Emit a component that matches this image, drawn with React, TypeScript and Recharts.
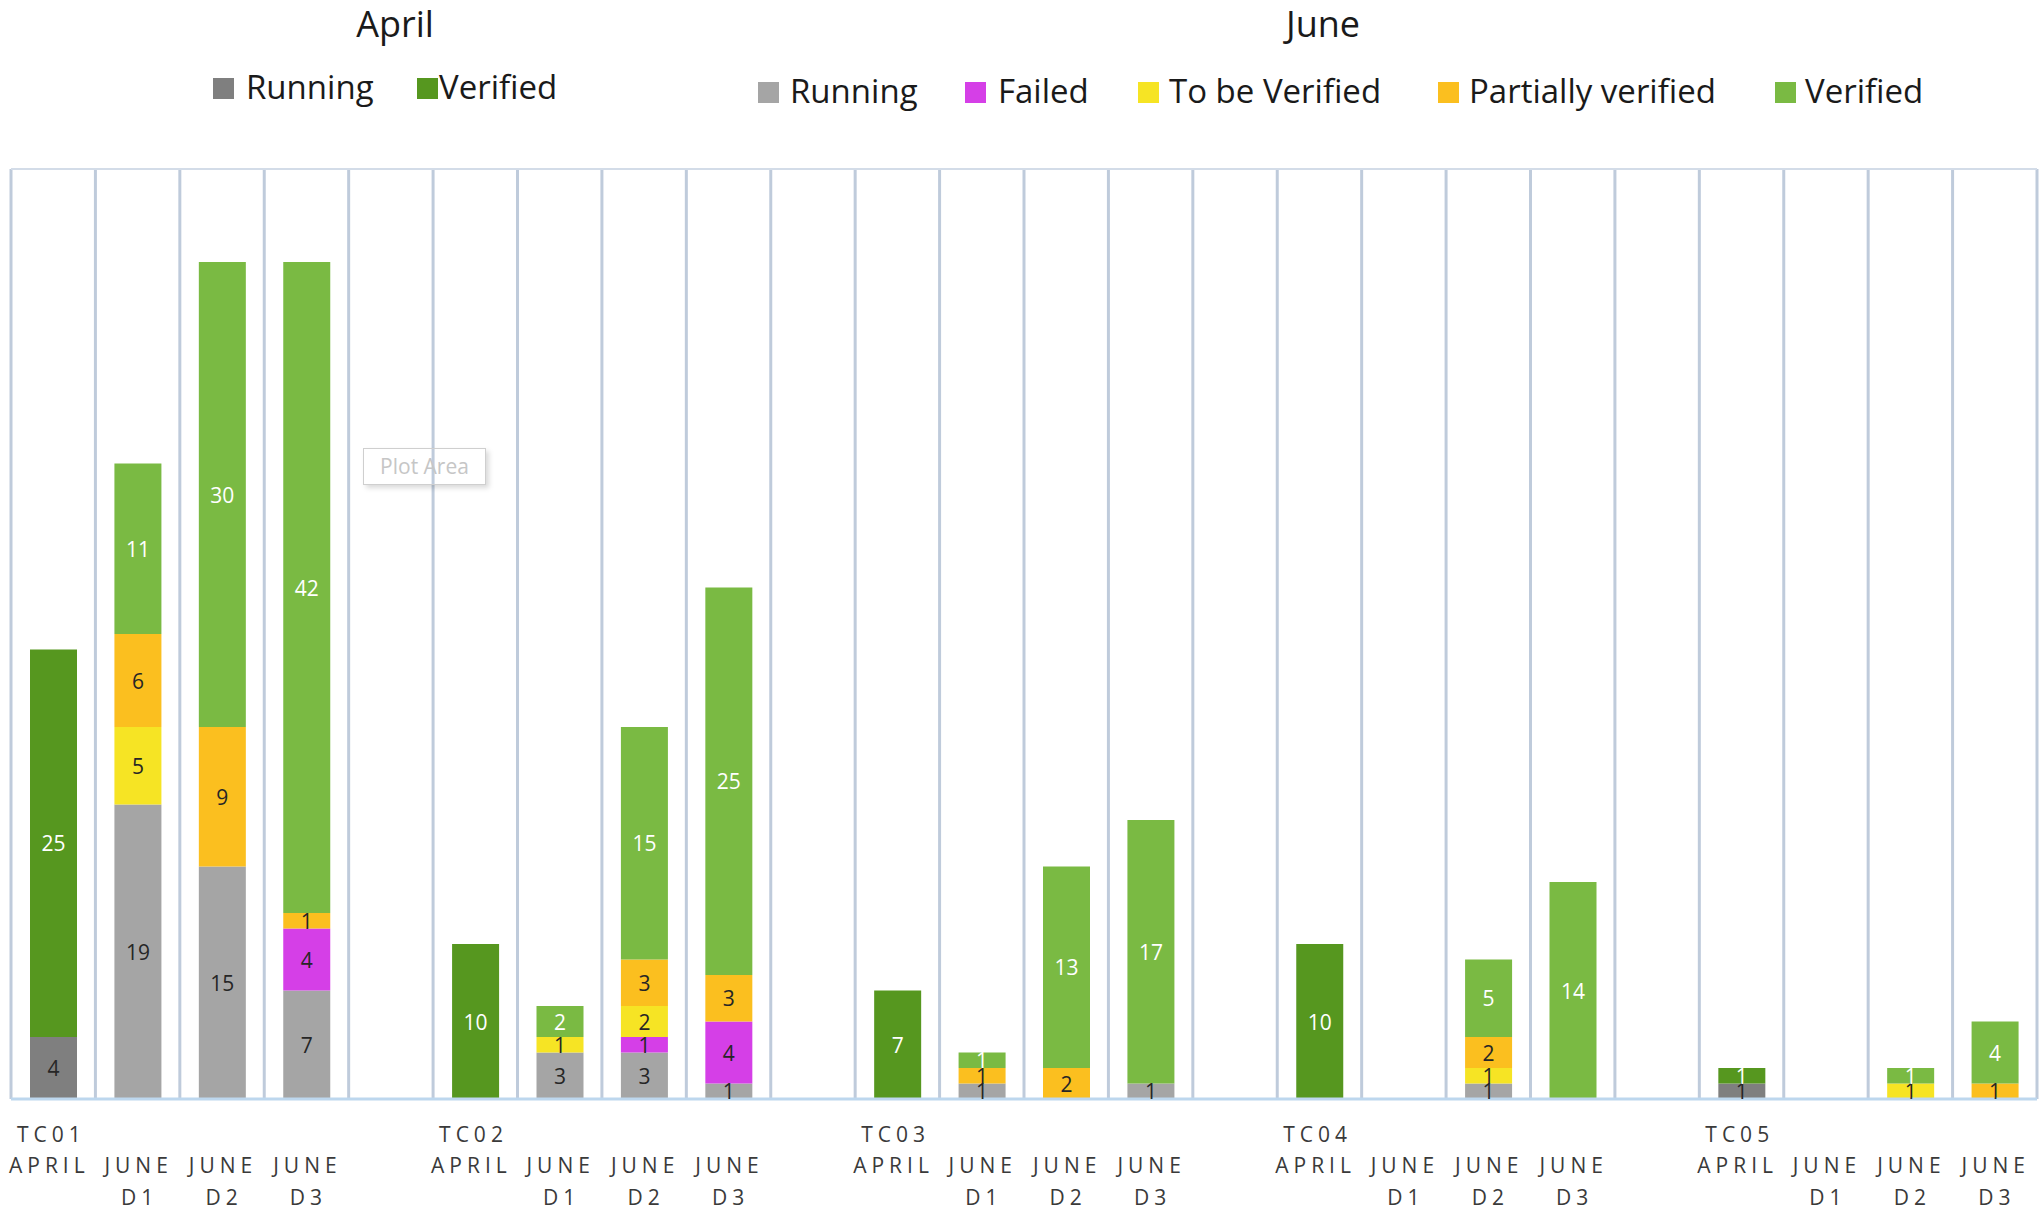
import React from "react";
import {
  BarChart,
  Bar,
  XAxis,
  YAxis,
  CartesianGrid,
  ReferenceLine,
  LabelList,
} from "recharts";

// ---- data (24 category slots: 5 test cases x 4 columns, with empty spacers) ----
const tcLabels = [
  "TC01", "", "", "", "",
  "TC02", "", "", "", "",
  "TC03", "", "", "", "",
  "TC04", "", "", "", "",
  "TC05", "", "", "",
];
const periodLabels = [
  "APRIL", "JUNE", "JUNE", "JUNE", "",
  "APRIL", "JUNE", "JUNE", "JUNE", "",
  "APRIL", "JUNE", "JUNE", "JUNE", "",
  "APRIL", "JUNE", "JUNE", "JUNE", "",
  "APRIL", "JUNE", "JUNE", "JUNE",
];
const dayLabels = [
  "", "D1", "D2", "D3", "",
  "", "D1", "D2", "D3", "",
  "", "D1", "D2", "D3", "",
  "", "D1", "D2", "D3", "",
  "", "D1", "D2", "D3",
];

const _ = null;
const aprilRunning = [4, _, _, _, _, _, _, _, _, _, _, _, _, _, _, _, _, _, _, _, 1, _, _, _];
const aprilVerified = [25, _, _, _, _, 10, _, _, _, _, 7, _, _, _, _, 10, _, _, _, _, 1, _, _, _];
const juneRunning = [_, 19, 15, 7, _, _, 3, 3, 1, _, _, 1, _, 1, _, _, _, 1, _, _, _, _, _, _];
const juneFailed = [_, _, _, 4, _, _, _, 1, 4, _, _, _, _, _, _, _, _, _, _, _, _, _, _, _];
const juneToBeVerified = [_, 5, _, _, _, _, 1, 2, _, _, _, _, _, _, _, _, _, 1, _, _, _, _, 1, _];
const junePartial = [_, 6, 9, 1, _, _, _, 3, 3, _, _, 1, 2, _, _, _, _, 2, _, _, _, _, _, 1];
const juneVerified = [_, 11, 30, 42, _, _, 2, 15, 25, _, _, 1, 13, 17, _, _, _, 5, 14, _, _, _, 1, 4];

const aprilLegend = ["Running", "Verified"];
const juneLegend = ["Running", "Failed", "To be Verified", "Partially verified", "Verified"];

// ---- styling ----
const W = 2043;
const H = 1211;
const PLOT_LEFT = 11;
const PLOT_RIGHT = 6;
const PLOT_TOP = 169;
const AXIS_H = 112;
const BAND = (W - PLOT_LEFT - PLOT_RIGHT) / tcLabels.length;
const FONT = "'Open Sans', 'Noto Sans', sans-serif";

const C = {
  aprilRunning: "#7f7f7f",
  aprilVerified: "#56971f",
  juneRunning: "#a5a5a5",
  juneFailed: "#d53fe7",
  juneToBeVerified: "#f6e424",
  junePartial: "#fbbf1f",
  juneVerified: "#7aba43",
};
const DARK = "#262626";

const rows = tcLabels.map((tc, i) => ({
  name: `${tcLabels.slice(0, i + 1).filter(Boolean).pop()} ${periodLabels[i]} ${dayLabels[i]} ${i}`,
  aprilRunning: aprilRunning[i],
  aprilVerified: aprilVerified[i],
  juneRunning: juneRunning[i],
  juneFailed: juneFailed[i],
  juneToBeVerified: juneToBeVerified[i],
  junePartial: junePartial[i],
  juneVerified: juneVerified[i],
}));

const series: { key: keyof typeof C; label: string }[] = [
  { key: "aprilRunning", label: DARK },
  { key: "aprilVerified", label: "#ffffff" },
  { key: "juneRunning", label: DARK },
  { key: "juneFailed", label: DARK },
  { key: "juneToBeVerified", label: DARK },
  { key: "junePartial", label: DARK },
  { key: "juneVerified", label: "#ffffff" },
];

function makeLabel(color: string) {
  return (props: any) => {
    const { x, y, width, height, value } = props;
    if (value == null) return null;
    return (
      <text
        x={Number(x) + Number(width) / 2}
        y={Number(y) + Number(height) / 2}
        fill={color}
        textAnchor="middle"
        dominantBaseline="central"
        fontSize={21}
        fontFamily={FONT}
      >
        {value}
      </text>
    );
  };
}

function CategoryTick(props: any) {
  const { x, y, payload } = props;
  const i = payload.index;
  const left = x - BAND / 2;
  const common = {
    fontSize: 21,
    fontFamily: FONT,
    fill: "#3a3a3a",
    style: { letterSpacing: 5 },
  };
  const period = periodLabels[i];
  return (
    <g>
      {tcLabels[i] && (
        <text x={left + 6} y={y + 43} textAnchor="start" {...common}>
          {tcLabels[i]}
        </text>
      )}
      {period && (
        <text
          x={period === "APRIL" ? left - 2 : x + 1}
          y={y + 74}
          textAnchor={period === "APRIL" ? "start" : "middle"}
          {...common}
        >
          {period}
        </text>
      )}
      {dayLabels[i] && (
        <text x={x + 2} y={y + 106} textAnchor="middle" {...common}>
          {dayLabels[i]}
        </text>
      )}
    </g>
  );
}

// legend layout (square x, text x)
const aprilPos = [
  [213, 246],
  [417, 439],
];
const junePos = [
  [758, 790],
  [965, 998],
  [1138, 1169],
  [1438, 1469],
  [1775, 1805],
];
const aprilColors = [C.aprilRunning, C.aprilVerified];
const juneColors = [C.juneRunning, C.juneFailed, C.juneToBeVerified, C.junePartial, C.juneVerified];

function Legends() {
  return (
    <svg
      width={W}
      height={150}
      style={{ position: "absolute", left: 0, top: 0, pointerEvents: "none" }}
    >
      <text x={395} y={37} textAnchor="middle" fontSize={36} fontFamily={FONT} fill="#1a1a1a">
        April
      </text>
      <text x={1323} y={37} textAnchor="middle" fontSize={36} fontFamily={FONT} fill="#1a1a1a">
        June
      </text>
      {aprilLegend.map((l, i) => (
        <g key={"a" + l}>
          <rect x={aprilPos[i][0]} y={78} width={21} height={21} fill={aprilColors[i]} />
          <text x={aprilPos[i][1]} y={99} fontSize={33} fontFamily={FONT} fill="#1a1a1a">
            {l}
          </text>
        </g>
      ))}
      {juneLegend.map((l, i) => (
        <g key={"j" + l}>
          <rect x={junePos[i][0]} y={82} width={21} height={21} fill={juneColors[i]} />
          <text x={junePos[i][1]} y={103} fontSize={33} fontFamily={FONT} fill="#1a1a1a">
            {l}
          </text>
        </g>
      ))}
    </svg>
  );
}

export default function App() {
  return (
    <div
      style={{
        position: "absolute",
        left: 0,
        top: 0,
        width: W,
        height: H,
        background: "#ffffff",
        fontFamily: FONT,
        overflow: "hidden",
      }}
    >
      <BarChart
        width={W}
        height={H}
        data={rows}
        margin={{ top: PLOT_TOP, right: PLOT_RIGHT, left: PLOT_LEFT, bottom: 0 }}
      >
        <CartesianGrid
          horizontal={false}
          stroke="#bfcbdb"
          strokeWidth={3}
          verticalCoordinatesGenerator={({ offset }: any) =>
            tcLabels
              .map((_, i) => offset.left + (i * offset.width) / tcLabels.length)
              .concat(offset.left + offset.width)
          }
        />
        <XAxis
          dataKey="name"
          interval={0}
          height={AXIS_H}
          tickLine={false}
          tickSize={0}
          tickMargin={0}
          axisLine={{ stroke: "#bdd7ee", strokeWidth: 3 }}
          tick={<CategoryTick />}
        />
        <YAxis hide domain={[0, 60]} type="number" allowDataOverflow />
        <ReferenceLine y={60} stroke="#d3dce8" strokeWidth={2} />
        {series.map((s) => (
          <Bar
            key={s.key}
            dataKey={s.key}
            stackId="a"
            fill={C[s.key]}
            barSize={47}
            isAnimationActive={false}
          >
            <LabelList dataKey={s.key} content={makeLabel(s.label)} />
          </Bar>
        ))}
      </BarChart>
      <Legends />
      <div
        style={{
          position: "absolute",
          left: 363,
          top: 448,
          width: 121,
          height: 35,
          border: "1px solid #cfcfcf",
          boxShadow: "3px 3px 5px rgba(0,0,0,0.15)",
          color: "#c6c6c6",
          fontSize: 21,
          fontFamily: FONT,
          lineHeight: "35px",
          textAlign: "center",
        }}
      >
        Plot Area
      </div>
    </div>
  );
}
